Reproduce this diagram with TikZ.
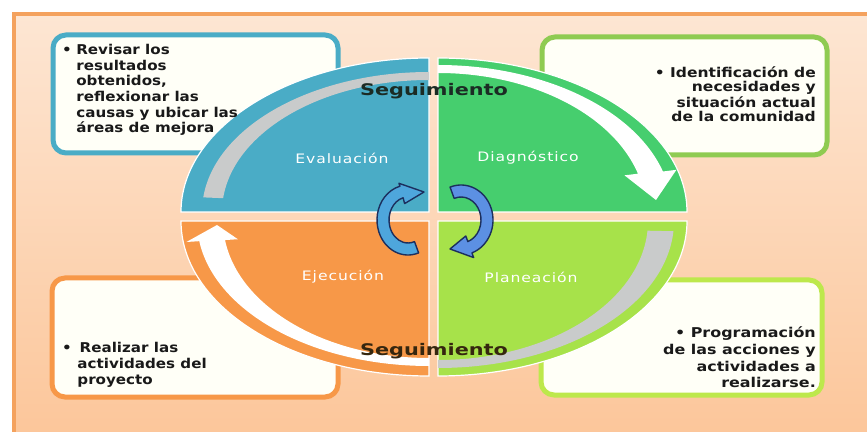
\documentclass[tikz,border=0pt]{standalone}
\usepackage{fontspec}
\setmainfont{DejaVu Sans}
\newfontfamily\qfont{DejaVu Sans}[LetterSpace=6]
\usepackage{graphicx}
\usetikzlibrary{calc}
\definecolor{peachtop}{HTML}{FDE6D3}
\definecolor{peachbot}{HTML}{FCC69A}
\definecolor{framec}{HTML}{F4A25E}
\definecolor{tealq}{HTML}{4AACC6}
\definecolor{greenq}{HTML}{46CE6E}
\definecolor{orangeq}{HTML}{F79848}
\definecolor{limeq}{HTML}{A7E24A}
\definecolor{limeb}{HTML}{BDE84C}
\definecolor{greenb}{HTML}{8FCB52}
\definecolor{bandgrey}{HTML}{C9CBCB}
\definecolor{arrowL}{HTML}{4EA6DC}
\definecolor{arrowR}{HTML}{5C90E3}
\definecolor{navy}{HTML}{1C2F5E}
\definecolor{segtop}{HTML}{1B2B24}
\definecolor{segbot}{HTML}{35260F}
\begin{document}
\begin{tikzpicture}[x=1pt,y=1pt,
  infobox/.style={draw=#1, line width=5pt, rounded corners=13pt, fill=white!97!yellow},
  quad/.style={fill=#1, draw=white, line width=1.2pt},
  boxtext/.style={inner sep=0pt, font=\bfseries\fontsize{13.5}{#1}\selectfont, text=black!90},
  qlabel/.style={inner sep=0pt, text=white, font=\qfont\fontsize{13}{15}\selectfont},
  seglabel/.style={inner sep=0pt, text=#1, font=\bfseries\fontsize{16}{18}\selectfont},
  cyc/.style={fill=#1, draw=navy, line width=1.4pt, line join=round}]
\useasboundingbox (0,0) rectangle (867,431);
\fill[white] (0,0) rectangle (867,431);
% frame
\shade[top color=peachtop, bottom color=peachbot] (14,-6) rectangle (880,417);
\draw[framec, line width=4pt] (14,-6) -- (14,417) -- (880,417);
% info boxes
\draw[infobox=tealq] (53,278) rectangle (338,396);
\draw[infobox=greenb] (542,276) rectangle (827,394);
\draw[infobox=orangeq] (52,34) rectangle (338,153);
\draw[infobox=limeb] (541,36) rectangle (822,151);
% quadrants
\coordinate (ctl) at (429,219);
\coordinate (ctr) at (438,219);
\coordinate (cbl) at (429,210);
\coordinate (cbr) at (438,210);
\path[quad=tealq] (ctl) -- (181,219) arc[start angle=180, end angle=90, x radius=248, y radius=154] -- cycle;
\path[quad=greenq] (ctr) -- (438,373) arc[start angle=90, end angle=0, x radius=249, y radius=154] -- cycle;
\path[quad=orangeq] (cbl) -- (181,210) arc[start angle=180, end angle=270, x radius=248, y radius=155] -- cycle;
\path[quad=limeq] (cbr) -- (687,210) arc[start angle=0, end angle=-90, x radius=249, y radius=155] -- cycle;
% grey bands
\fill[bandgrey] ($(ctl)+(174:227 and 140)$) arc[start angle=174, end angle=90, x radius=227, y radius=140] -- ++(0,-8) arc[start angle=90, end angle=174, x radius=207, y radius=132] -- cycle;
\fill[bandgrey] ($(cbr)+(356:236 and 147)$) arc[start angle=356, end angle=270, x radius=236, y radius=147] -- ++(0,8) arc[start angle=270, end angle=356, x radius=210, y radius=139] -- cycle;
% white arrows
\fill[white] ($(ctr)+(90:234 and 147)$) arc[start angle=90, end angle=16, x radius=234, y radius=147]
  -- ($(ctr)+(16:248 and 153)$) -- (656,231) -- ($(ctr)+(16:194 and 133)$) -- ($(ctr)+(16:208 and 139)$)
  arc[start angle=16, end angle=90, x radius=208, y radius=139] -- cycle;
\fill[white] ($(cbl)+(270:232 and 145)$) arc[start angle=270, end angle=188, x radius=232, y radius=145]
  -- ($(cbl)+(188:245 and 151)$) -- (217,206) -- ($(cbl)+(188:193 and 131)$) -- ($(cbl)+(188:206 and 137)$)
  arc[start angle=188, end angle=270, x radius=206, y radius=137] -- cycle;
% central cycle arrows
\coordinate (cl) at (408,211);
\coordinate (cr) at (461,211);
\path[cyc=arrowL] ($(cl)+(290:31 and 35)$) arc[start angle=290, end angle=105, x radius=31, y radius=35]
  -- ($(cl)+(105:35 and 38)$) -- (424,239) -- ($(cl)+(105:13 and 17)$) -- ($(cl)+(105:19 and 23)$)
  arc[start angle=105, end angle=290, x radius=19, y radius=23] -- cycle;
\path[cyc=arrowR] ($(cr)+(110:32 and 35)$) arc[start angle=110, end angle=-70, x radius=32, y radius=35]
  -- ($(cr)+(-70:37 and 40)$) -- (450,182) -- ($(cr)+(-70:14 and 17)$) -- ($(cr)+(-70:20 and 23)$)
  arc[start angle=-70, end angle=110, x radius=20, y radius=23] -- cycle;
% quadrant labels
\node[qlabel] (eva) at (342,273) {\scalebox{1.2}[1]{Evaluación}};
\node[qlabel] (dia) at (528,273) {\scalebox{1.2}[1]{Diagnóstico}};
\node[qlabel] (eje) at (343,154) {\scalebox{1.2}[1]{Ejecución}};
\node[qlabel] (pla) at (531,154) {\scalebox{1.2}[1]{Planeación}};
% seguimiento
\node[seglabel=segtop] (segt) at (434,340) {\scalebox{1.3}[1]{Seguimiento}};
\node[seglabel=segbot] (segb) at (434,80) {\scalebox{1.3}[1]{Seguimiento}};
% box texts
\node[boxtext=15.6, anchor=north west] (t1) at (62,387.4) {\scalebox{1.12}[1]{\begin{tabular}{@{}l@{\hspace{4pt}}l@{}}\textbullet & Revisar los\\ & resultados\\ & obtenidos,\\ & reflexionar las\\ & causas y ubicar las\\ & áreas de mejora\end{tabular}}};
\node[boxtext=14.5, anchor=north east] (t2) at (816,364.7) {\scalebox{1.15}[1]{\begin{tabular}{@{}r@{}}\textbullet\ Identificación de\\ necesidades y\\ situación actual\\ de la comunidad\end{tabular}}};
\node[boxtext=16.7, anchor=north east] (t4) at (816,105.2) {\scalebox{1.18}[1]{\begin{tabular}{@{}r@{}}\textbullet\ Programación\\ de las acciones y\\ actividades a\\ realizarse.\end{tabular}}};
\node[boxtext=16, anchor=north west] (t3) at (62,89.7) {\scalebox{1.12}[1]{\begin{tabular}{@{}l@{\hspace{5pt}}l@{}}\textbullet & \hspace{2pt}Realizar las\\ & actividades del\\ & proyecto\end{tabular}}};
\end{tikzpicture}
\end{document}
